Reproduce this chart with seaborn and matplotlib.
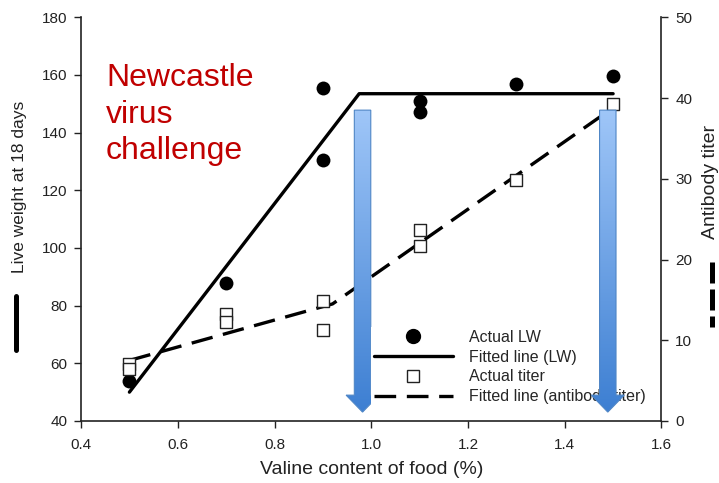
import numpy as np
import pandas as pd
import matplotlib
matplotlib.use("Agg")
import matplotlib.pyplot as plt
from matplotlib.patches import Polygon
from matplotlib.lines import Line2D
import seaborn as sns

# Observed live weight (g) per valine level
valine_lw = [0.5, 0.7, 0.9, 0.9, 1.1, 1.1, 1.3, 1.5]
live_weight = [54, 88, 155.5, 130.5, 151, 147, 157, 159.5]

# Observed antibody titer per valine level
valine_titer = [0.5, 0.5, 0.7, 0.7, 0.9, 0.9, 1.1, 1.1, 1.3, 1.5]
antibody_titer = [7.0, 6.4, 13.3, 12.3, 14.8, 11.3, 23.6, 21.7, 29.8, 39.3]

# Broken-line fits
lw_fit_x = [0.5, 0.975, 1.5]
lw_fit_y = [50, 153.5, 153.5]
titer_fit_x = [0.5, 0.92, 1.5]
titer_fit_y = [7.5, 14.5, 38.8]

# Requirement markers (valine levels) drawn as down arrows, in titer units
arrow_x = [0.982, 1.489]
arrow_top, arrow_neck, arrow_tip = 38.5, 3.2, 1.1

x_ticks = [0.4, 0.6, 0.8, 1.0, 1.2, 1.4, 1.6]
lw_ticks = [40, 60, 80, 100, 120, 140, 160, 180]
titer_ticks = [0, 10, 20, 30, 40, 50]

sns.set_style("white")
plt.rcParams["font.family"] = ["Liberation Sans", "DejaVu Sans"]
plt.rcParams["axes.edgecolor"] = "#222222"
plt.rcParams["xtick.color"] = "#222222"
plt.rcParams["ytick.color"] = "#222222"

fig = plt.figure(figsize=(7.19, 4.83), dpi=100)
ax = fig.add_axes([0.1127, 0.1284, 0.8073, 0.8358])
ax2 = ax.twinx()

df_lw = pd.DataFrame({"valine": valine_lw, "lw": live_weight})
df_ti = pd.DataFrame({"valine": valine_titer, "titer": antibody_titer})
df_lwfit = pd.DataFrame({"valine": lw_fit_x, "lw": lw_fit_y})
df_tifit = pd.DataFrame({"valine": titer_fit_x, "titer": titer_fit_y})

sns.lineplot(data=df_lwfit, x="valine", y="lw", ax=ax, color="black",
             linewidth=2.4, zorder=3, label="_nolegend_")
sns.scatterplot(data=df_lw, x="valine", y="lw", ax=ax, color="black",
                s=100, edgecolor="black", linewidth=0, zorder=4, legend=False)

sns.lineplot(data=df_tifit, x="valine", y="titer", ax=ax2, color="black",
             linewidth=2.4, dashes=False, zorder=3, label="_nolegend_")
ax2.lines[-1].set_dashes((6.5, 3.2))
sns.scatterplot(data=df_ti, x="valine", y="titer", ax=ax2, marker="s",
                facecolor="white", edgecolor="#222222", linewidth=1.0,
                s=75, zorder=4, legend=False)

ax.set_xlim(0.4, 1.6)
ax.set_ylim(40, 180)
ax2.set_ylim(0, 50)
ax.set_xticks(x_ticks)
ax.set_xticklabels([f"{v:.1f}" for v in x_ticks])
ax.set_yticks(lw_ticks)
ax2.set_yticks(titer_ticks)

for a in (ax, ax2):
    a.tick_params(length=5, width=1, labelsize=11, direction="out", pad=5)
    for s in a.spines.values():
        s.set_linewidth(1.2)
    a.spines["top"].set_visible(False)
ax.spines["right"].set_visible(False)
ax2.spines["left"].set_visible(False)
ax2.spines["bottom"].set_visible(False)
ax.tick_params(axis="x", bottom=True, pad=7)
ax.tick_params(axis="y", left=True)
ax2.tick_params(axis="y", right=True)

ax.set_xlabel("Valine content of food (%)", fontsize=14, color="#222222", labelpad=7)
ax.set_ylabel("Live weight at 18 days", fontsize=12.5, color="#222222")
ax.yaxis.set_label_coords(-0.093, 0.58)
ax2.set_ylabel("Antibody titer", fontsize=14, color="#222222")
ax2.yaxis.set_label_coords(1.069, 0.593)

# Axis keys next to the axis titles
fig.add_artist(Line2D([0.0223, 0.0223], [1 - 296 / 483, 1 - 350 / 483],
                      transform=fig.transFigure, color="black", linewidth=3.6,
                      solid_capstyle="round"))
fig.add_artist(Line2D([0.9903, 0.9903], [1 - 262 / 483, 1 - 327 / 483],
                      transform=fig.transFigure, color="black", linewidth=3.6,
                      dashes=(4.2, 1.2)))

ax.text(0.043, 0.886, "Newcastle\nvirus\nchallenge", transform=ax.transAxes,
        fontsize=23, color="#c00000", va="top", ha="left", linespacing=1.27)

# Legend
handles = [
    Line2D([], [], color="black", marker="o", linestyle="none", markersize=10),
    Line2D([], [], color="black", linewidth=2.4),
    Line2D([], [], color="#222222", marker="s", markerfacecolor="white",
           linestyle="none", markersize=8.5, markeredgewidth=1.0),
    Line2D([], [], color="black", linewidth=2.4, dashes=(6.5, 3.2)),
]
labels = ["Actual LW", "Fitted line (LW)", "Actual titer", "Fitted line (antibody titer)"]
leg = ax2.legend(handles, labels, loc="upper left", bbox_to_anchor=(0.5, 0.232),
                 borderaxespad=0, fontsize=11.5, frameon=True, framealpha=1,
                 facecolor="white", edgecolor="none", fancybox=False,
                 handlelength=4.95, handletextpad=1.0, labelspacing=0.3,
                 borderpad=0.15)
leg.set_zorder(5)

# Gradient down arrows
grad = np.linspace(0, 1, 256).reshape(-1, 1)
cmap = matplotlib.colors.LinearSegmentedColormap.from_list(
    "arrowblue", ["#3d7fd2", "#9fc6f8"])
shaft_half, head_half = 0.017, 0.034
for i, xc in enumerate(arrow_x):
    z = 4 if i == 0 else 6
    verts = [(xc - shaft_half, arrow_top), (xc + shaft_half, arrow_top),
             (xc + shaft_half, arrow_neck), (xc + head_half, arrow_neck),
             (xc, arrow_tip), (xc - head_half, arrow_neck),
             (xc - shaft_half, arrow_neck)]
    poly = Polygon(verts, closed=True, facecolor="none", edgecolor="#4f86c6",
                   linewidth=0.8, zorder=z + 0.1, transform=ax2.transData)
    ax2.add_patch(poly)
    im = ax2.imshow(grad, cmap=cmap, aspect="auto", origin="lower",
                    extent=(xc - head_half, xc + head_half, arrow_tip, arrow_top),
                    zorder=z, interpolation="bilinear")
    im.set_clip_path(poly)

ax.set_xlim(0.4, 1.6)
ax2.set_xlim(0.4, 1.6)
ax2.set_ylim(0, 50)

fig.savefig("out.png", dpi=100)
